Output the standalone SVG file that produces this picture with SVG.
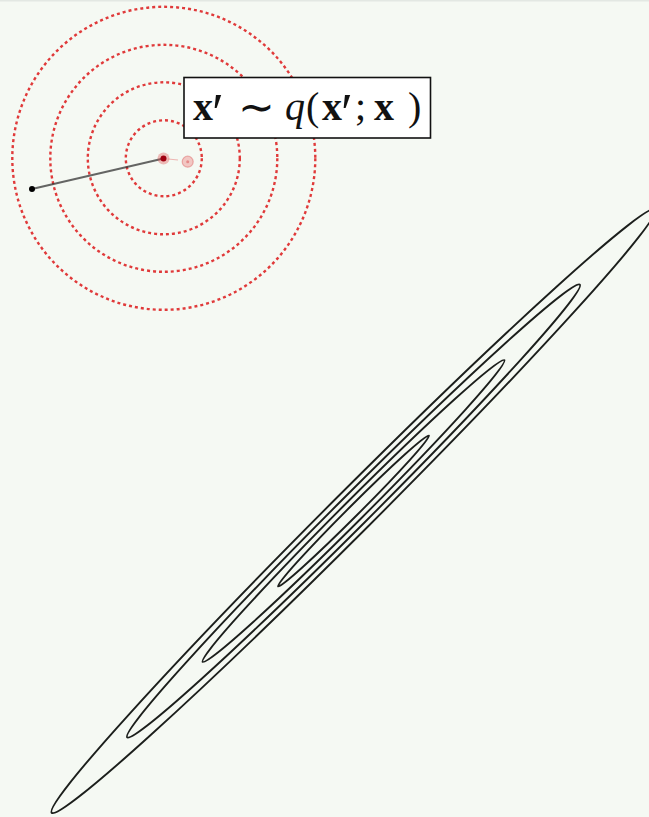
<svg xmlns="http://www.w3.org/2000/svg" width="649" height="817" viewBox="0 0 649 817">
<style>
.bg{fill:#f5f9f3}
.ring{fill:none;stroke:#e03a3a;stroke-width:2.4;stroke-dasharray:3 3}
.contour{fill:none;stroke:#1c1f1c;stroke-width:1.9}
.m{font-family:"Liberation Serif","DejaVu Serif",serif;font-size:40px;fill:#111}
.b{font-weight:bold}
.i{font-style:italic}
.p{font-size:54px}
.t{font-family:"DejaVu Sans",sans-serif;font-size:44px}
</style>
<rect class="bg" x="0" y="0" width="649" height="817"/>
<rect x="0" y="0" width="649" height="1.5" fill="#e3e8e3"/>
<g id="proposal-rings">
<circle class="ring" cx="163.8" cy="158.3" r="38"/>
<circle class="ring" cx="163.8" cy="158.3" r="76"/>
<circle class="ring" cx="163.8" cy="158.3" r="113.5"/>
<circle class="ring" cx="163.8" cy="158.3" r="151.5"/>
</g>
<g id="target-contours">
<g transform="rotate(-45 353.5 511)">
<ellipse class="contour" cx="353.5" cy="511" rx="106.7" ry="5.3"/>
<ellipse class="contour" cx="353.5" cy="511" rx="213.4" ry="10.6"/>
<ellipse class="contour" cx="353.5" cy="511" rx="320.1" ry="15.9"/>
<ellipse class="contour" cx="353.5" cy="511" rx="426.8" ry="21.2"/>
</g>
</g>
<g id="connectors">
<line x1="32" y1="189" x2="163.5" y2="158.5" stroke="#333" stroke-opacity="0.75" stroke-width="2"/>
<line x1="168" y1="159" x2="178" y2="160" stroke="#e03a3a" stroke-opacity="0.35" stroke-width="1.2"/>
</g>
<g id="start-point">
<circle cx="32" cy="189" r="3" fill="#000"/>
</g>
<g id="current-point">
<circle cx="163.5" cy="158.5" r="6" fill="#e04545" fill-opacity="0.35"/>
<circle cx="163.5" cy="158.5" r="3" fill="#a00010"/>
</g>
<g id="proposed-point">
<circle cx="187.7" cy="161.7" r="5.5" fill="#f08a8a" fill-opacity="0.45" stroke="#e06a6a" stroke-opacity="0.5" stroke-width="1.2"/>
<circle cx="187.7" cy="161.7" r="1.5" fill="#e07070" fill-opacity="0.7"/>
</g>
<g id="label">
<rect x="184" y="77.5" width="246.5" height="60.5" fill="#ffffff" stroke="#111" stroke-width="1.6"/>
<text class="m" y="120"><tspan class="b" x="193">x</tspan><tspan class="p" x="212" y="131">′</tspan><tspan class="t" x="238" y="122">∼</tspan><tspan class="i" x="285" y="120">q</tspan><tspan x="306">(</tspan><tspan class="b" x="322">x</tspan><tspan class="p" x="341" y="131">′</tspan><tspan x="355" y="120">;</tspan><tspan class="b" x="374">x</tspan><tspan x="408">)</tspan></text>
</g>
</svg>
